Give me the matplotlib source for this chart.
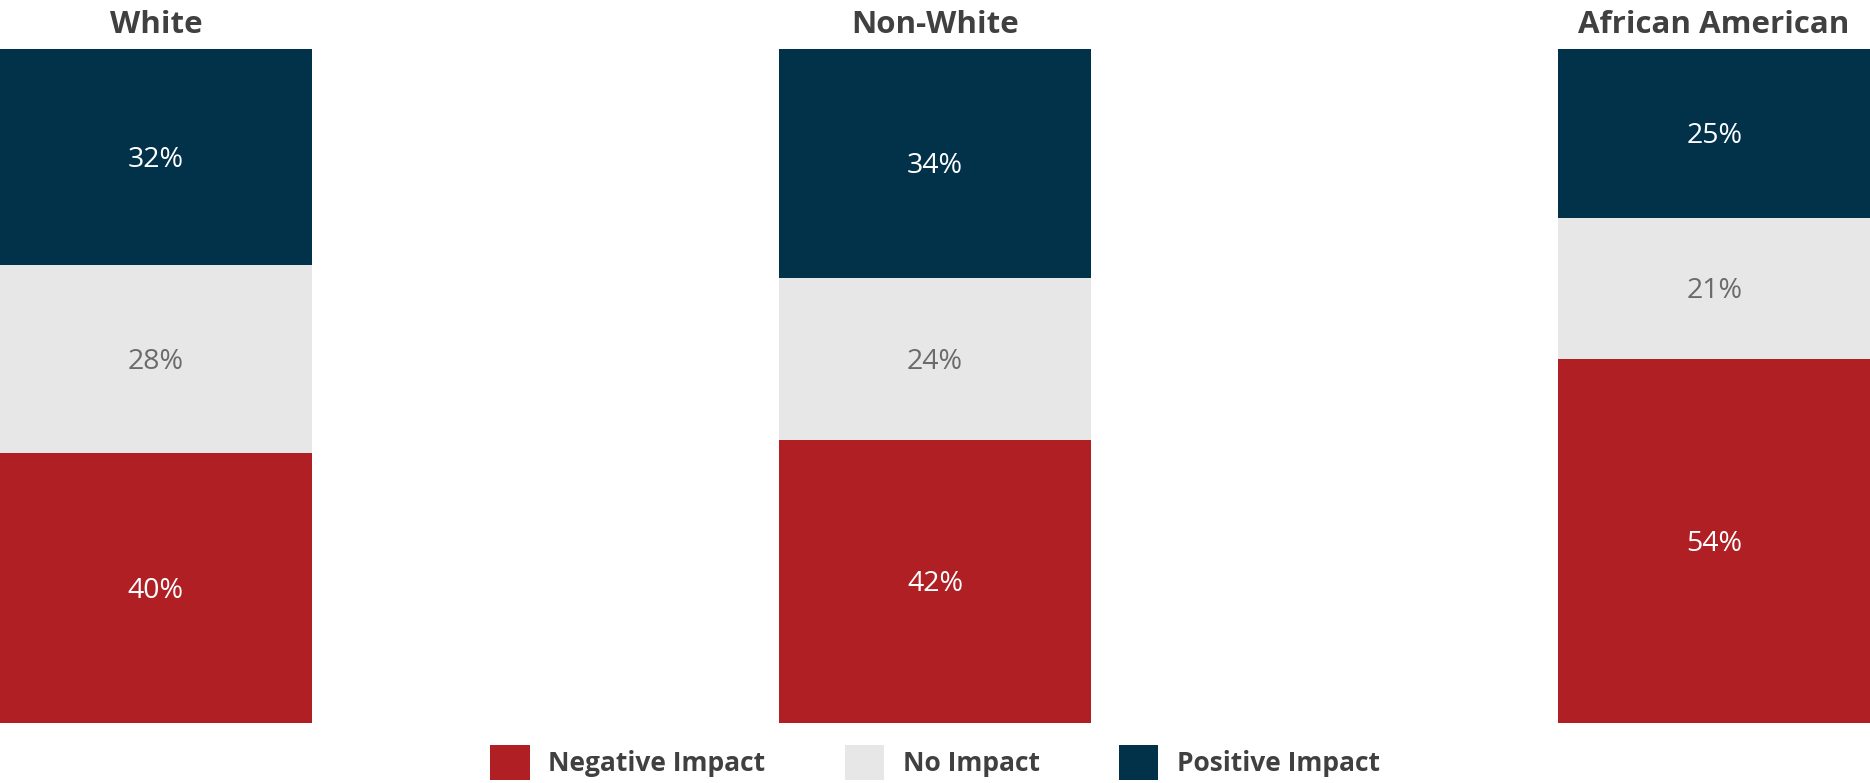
import matplotlib.pyplot as plt
from matplotlib.patches import Patch

groups = ["White", "Non-White", "African American"]
negative = [40, 42, 54]
no_impact = [28, 24, 21]
positive = [32, 34, 25]

series_names = ["Negative Impact", "No Impact", "Positive Impact"]
colors = ["#B01F24", "#E7E7E7", "#02314A"]
text_colors = ["white", "#6B6B6B", "white"]

plt.rcParams['font.family'] = ['Open Sans', 'DejaVu Sans']

fig = plt.figure(figsize=(18.7, 7.83), dpi=100)
ax = fig.add_axes([0, 0.0766, 1, 0.8608])

x = list(range(len(groups)))
bottoms = [0] * len(groups)
for name, vals, col, tcol in zip(series_names, [negative, no_impact, positive], colors, text_colors):
    bars = ax.bar(x, vals, width=0.4, bottom=bottoms, color=col, edgecolor='none')
    for b, v in zip(bars, vals):
        # labels sit a touch below the segment middle
        ax.text(b.get_x() + b.get_width() / 2, b.get_y() + b.get_height() / 2 - 0.4,
                f"{v}%", ha='center', va='center', color=tcol, fontsize=20.5)
    bottoms = [b + v for b, v in zip(bottoms, vals)]

for xi, g in zip(x, groups):
    ax.text(xi, 101.3, g, ha='center', va='bottom', fontsize=22.5,
            fontweight='bold', color='#404040')

ax.set_xlim(-0.2, 2.2)
ax.set_ylim(0, 100)
ax.axis('off')

handles = [Patch(facecolor=c, edgecolor='none') for c in colors]
fig.legend(handles, series_names, loc='center', bbox_to_anchor=(0.5, 0.026),
           ncol=3, frameon=False, handlelength=1.5, handleheight=1.7,
           columnspacing=3.0, handletextpad=0.7,
           prop={'weight': 'bold', 'size': 19})
for t in fig.legends[0].get_texts():
    t.set_color('#404040')

fig.savefig("out.png", dpi=100)
